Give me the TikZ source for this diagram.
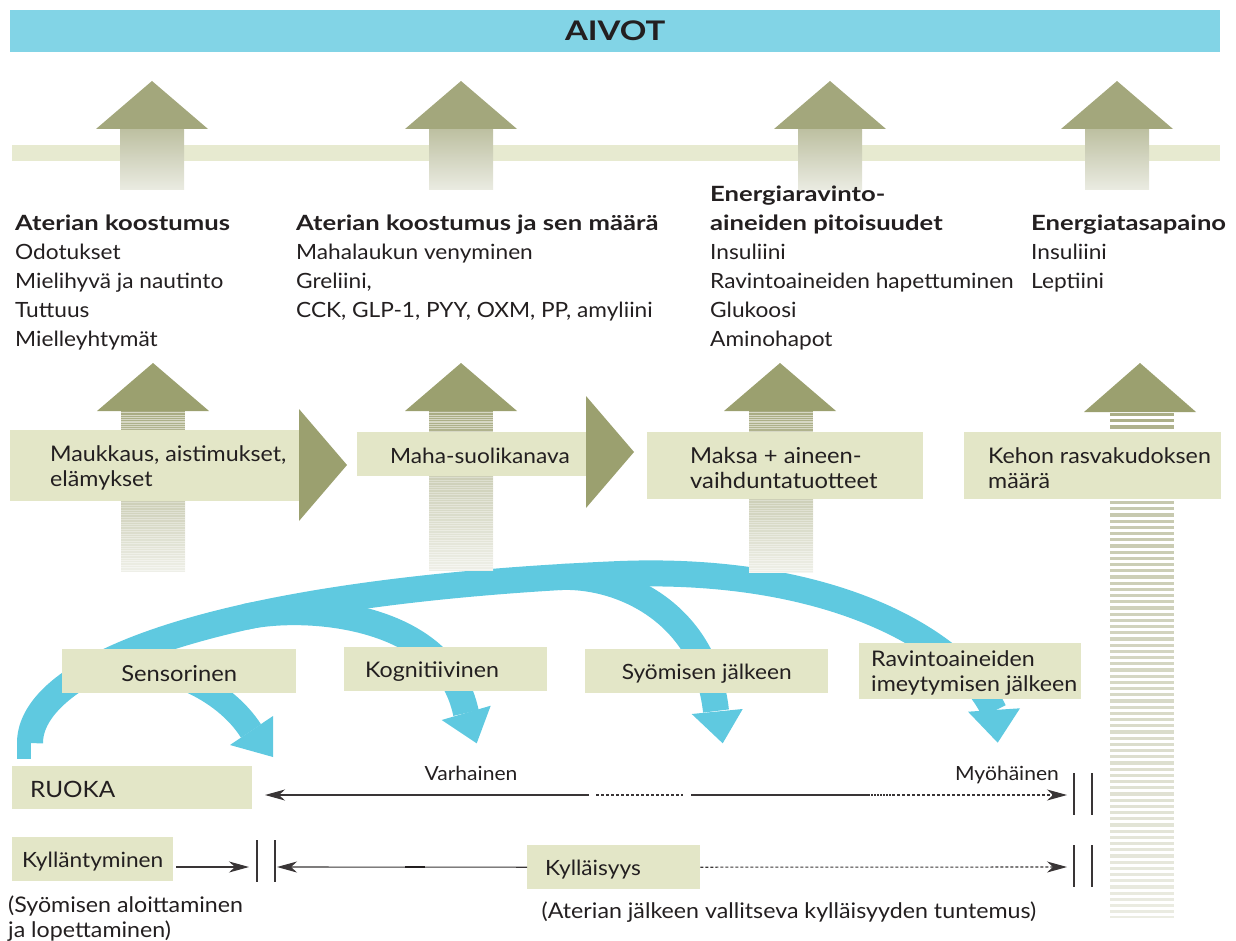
\documentclass[tikz,border=0pt]{standalone}
\usepackage{fontspec}
\setmainfont[FakeStretch=1.08]{Lato}
\newfontfamily\hdfont[FakeStretch=1.22]{Lato}
\usetikzlibrary{arrows.meta}
\definecolor{aivot}{HTML}{82D4E6}
\definecolor{bandc}{HTML}{E7EAD0}
\definecolor{boxc}{HTML}{E3E6C7}
\definecolor{olv}{HTML}{A3A77C}
\definecolor{olvd}{HTML}{9BA06F}
\definecolor{bluec}{HTML}{5FC9E0}
\definecolor{inkc}{HTML}{231F20}
\newcommand\hd[1]{{\hdfont\bfseries #1}}
\newcommand\mystripes[8]{%
  \pgfmathtruncatemacro\myN{(#4-#3)/#5}%
  \foreach \k in {0,...,\myN}{%
    \pgfmathsetmacro\myp{#7+(#8-#7)*\k/max(\myN,1)}%
    \pgfmathsetmacro\myy{#3+#5*\k}%
    \pgfmathsetmacro\myyb{min(\myy+#6,#4)}%
    \fill[olv!\myp!white] (#1,\myy) rectangle (#2,\myyb);
  }}
\begin{document}
\begin{tikzpicture}[x=1pt,y=-1pt,
  txt/.style={font=\fontsize{21}{29}\selectfont, text=inkc, inner sep=0pt, align=left},
  btxt/.style={font=\fontsize{21.5}{25}\selectfont, text=inkc, inner sep=0pt, align=left, yshift=-2pt},
  boxn/.style={fill=boxc, inner sep=0pt, anchor=north west},
  tl/.style={line width=1.1pt, draw=inkc!90},
  tiph/.style={-{Stealth[length=20pt,width=11pt,inset=6pt]}},
  dsh/.style={dash pattern=on 3pt off 2pt},
  bluearc/.style={draw=bluec, line width=26pt},
]
\useasboundingbox (0,0) rectangle (1236,941);

% ---------- top band and top arrows ----------
\fill[bandc] (12,145) rectangle (1220,161);
\foreach \cx in {152,461,830,1117}{
  \shade[top color=olv!72!white, bottom color=olv!22!white] (\cx-32,129) rectangle (\cx+32,190);
  \fill[olv] (\cx-56,129) -- (\cx,81) -- (\cx+56,129) -- cycle;
}
\node[fill=aivot, minimum width=1210pt, minimum height=42pt, anchor=north west, inner sep=0pt,
      font=\hdfont\bfseries\fontsize{27}{27}\selectfont, text=inkc] (aivot) at (10,10) {AIVOT};

% ---------- column texts ----------
\node[txt, anchor=north west] (c1) at (15,215) {\hd{Aterian koostumus}\\Odotukset\\Mielihyvä ja nautinto\\Tuttuus\\Mielleyhtymät};
\node[txt, anchor=north west] (c2) at (296,215) {\hd{Aterian koostumus ja sen määrä}\\Mahalaukun venyminen\\Greliini,\\CCK, GLP-1, PYY, OXM, PP, amyliini};
\node[txt, anchor=north west] (c3) at (710,186) {\hd{Energiaravinto-}\\\hd{aineiden pitoisuudet}\\Insuliini\\Ravintoaineiden hapettuminen\\Glukoosi\\Aminohapot};
\node[txt, anchor=north west] (c4) at (1031,215) {\hd{Energiatasapaino}\\Insuliini\\Leptiini};

% ---------- blue arcs (branches first, main arc on top) ----------
\draw[bluearc, line width=24pt] (92,672) .. controls (160,655) and (225,690) .. (251,731);
\draw[bluearc] (245.1,616.9) .. controls (303,603.9) and (445,612) .. (466,713);
\draw[bluearc] (558.9,577.1) .. controls (620,574) and (705,612) .. (716,711);
\draw[bluearc] (30,743) .. controls (30,670) and (200,592) .. (620,574)
                .. controls (830,566) and (960,640) .. (994,711);
\fill[bluec] (17,740) rectangle (31,759);
\fill[bluec] (230,745) -- (273,716) -- (273,757) -- cycle;
\fill[bluec] (441.7,720) -- (490.7,705.7) -- (476.7,743.3) -- cycle;
\fill[bluec] (691.7,714) -- (742.7,709) -- (722.7,743.3) -- cycle;
\fill[bluec] (968,711.7) -- (1020,708.3) -- (997.7,742.7) -- cycle;

% ---------- second row arrows ----------
% arrow 1
\fill[olv!45!white] (121,411) rectangle (185,430);
\mystripes{121}{185}{411}{430}{2.3}{1.2}{95}{85}
\shade[top color=olv!38!white, bottom color=olv!10!white] (121,501) rectangle (185,571);
\mystripes{121}{185}{501}{571}{2.4}{1.3}{55}{18}
\fill[olvd] (97,411) -- (153,363) -- (209,411) -- cycle;
% arrow 2
\fill[olv!45!white] (429,411) rectangle (493,432);
\mystripes{429}{493}{411}{432}{2.3}{1.2}{95}{85}
\shade[top color=olv!38!white, bottom color=olv!10!white] (429,476) rectangle (493,570);
\mystripes{429}{493}{476}{570}{2.4}{1.3}{55}{18}
\fill[olvd] (405,411) -- (461,363) -- (517,411) -- cycle;
% arrow 3
\fill[olv!45!white] (749,411) rectangle (813,432);
\mystripes{749}{813}{411}{432}{2.3}{1.2}{95}{85}
\shade[top color=olv!38!white, bottom color=olv!10!white] (749,499) rectangle (813,572);
\mystripes{749}{813}{499}{572}{2.4}{1.3}{55}{18}
\fill[olvd] (724,411) -- (780,363) -- (836,411) -- cycle;
% arrow 4
\mystripes{1110}{1174}{413}{432}{6.2}{3.1}{92}{85}
\mystripes{1110}{1174}{501}{918}{6.2}{3.1}{62}{22}
\fill[olvd] (1084,412) -- (1140,363) -- (1196,412) -- cycle;

% boxes second row
\node[boxn, minimum width=290pt, minimum height=71pt] (b1) at (10,430) {};
\node[btxt, anchor=west] (b1t) at ([xshift=40pt]b1.west) {Maukkaus, aistimukset,\\elämykset};
\fill[olvd] (299,409) -- (347,465) -- (299,521) -- cycle;
\node[boxn, minimum width=229pt, minimum height=44pt] (b2) at (357,432) {};
\node[btxt, anchor=west, font=\fontsize{21}{25}\selectfont] (b2t) at ([xshift=33pt]b2.west) {Maha-suolikanava};
\fill[olvd] (586,396) -- (634,452) -- (586,508) -- cycle;
\node[boxn, minimum width=276pt, minimum height=67pt] (b3) at (647,432) {};
\node[btxt, anchor=west, font=\fontsize{22}{25}\selectfont] (b3t) at ([xshift=43pt]b3.west) {Maksa + aineen-\\vaihduntatuotteet};
\node[boxn, minimum width=257pt, minimum height=67pt] (b4) at (964,432) {};
\node[btxt, anchor=west] (b4t) at ([xshift=24pt]b4.west) {Kehon rasvakudoksen\\määrä};

% ---------- label boxes on arcs ----------
\node[boxn, minimum width=234pt, minimum height=44pt] (sen) at (62,649) {};
\node[btxt, font=\fontsize{22}{25}\selectfont] (sent) at (sen.center) {Sensorinen};
\node[boxn, minimum width=203pt, minimum height=44pt] (kog) at (344,647) {};
\node[btxt, anchor=west] (kogt) at ([xshift=21pt]kog.west) {Kognitiivinen};
\node[boxn, minimum width=243pt, minimum height=44pt] (syo) at (585,649) {};
\node[btxt, font=\fontsize{21}{25}\selectfont] (syot) at (syo.center) {Syömisen jälkeen};
\node[boxn, minimum width=222pt, minimum height=56pt] (rav) at (859,643) {};
\node[btxt, anchor=west] (ravt) at ([xshift=12pt]rav.west) {Ravintoaineiden\\imeytymisen jälkeen};

% ---------- timeline 1 ----------
\node[boxn, minimum width=240pt, minimum height=43pt] (ruoka) at (12,766) {};
\node[btxt, anchor=west, font=\fontsize{22.5}{25}\selectfont] (ruokat) at ([xshift=18pt]ruoka.west) {RUOKA};
\coordinate (t1l) at (265,795);
\coordinate (t1a) at (589,795);
\coordinate (t1b) at (596,795);
\coordinate (t1c) at (683,795);
\coordinate (t1d) at (691,795);
\coordinate (t1e) at (868,795);
\coordinate (t1f) at (892,795);
\coordinate (t1r) at (1067,795);
\draw[tl, tiph] (t1a) -- (t1l);
\draw[tl, dsh] (t1b) -- (t1c);
\draw[tl] (t1d) -- (t1e);
\draw[tl, dash pattern=on 2pt off 1pt] (t1e) -- (t1f);
\draw[tl, dsh, tiph] (t1f) -- (t1r);
\node[txt, font=\fontsize{19.5}{24}\selectfont] (varh) at (471,773) {Varhainen};
\node[txt, font=\fontsize{19.5}{24}\selectfont] (myoh) at (1007,775) {Myöhäinen};
\draw[tl] (1074,773) -- (1074,815);
\draw[tl] (1092,773) -- (1092,815);

% ---------- timeline 2 ----------
\node[boxn, minimum width=161pt, minimum height=44pt] (kyll) at (12,837) {};
\node[btxt, font=\fontsize{21}{25}\selectfont] (kyllt) at (kyll.center) {Kylläntyminen};
\node[boxn, minimum width=173pt, minimum height=44pt] (kys) at (527,845) {};
\node[btxt, anchor=west, font=\fontsize{21}{25}\selectfont] (kyst) at ([xshift=18pt]kys.west) {Kylläisyys};
\coordinate (t2a) at (176,867);
\coordinate (t2b) at (249,867);
\coordinate (t2c) at (277,867);
\coordinate (t2r) at (1067,867);
\draw[tl, tiph] (t2a) -- (t2b);
\draw[tl, tiph] (kys.west) -- (t2c);
\draw[line width=2pt, draw=inkc] (405,867) -- (425,867);
\draw[tl, dsh, tiph] (kys.east) -- (t2r);
\draw[tl] (257,840) -- (257,882);
\draw[tl] (275,840) -- (275,882);
\draw[tl] (1074,845) -- (1074,887);
\draw[tl] (1092,845) -- (1092,887);

\node[txt, anchor=north west, font=\fontsize{21.5}{25}\selectfont] (bl) at (8,896) {(Syömisen aloittaminen\\ja lopettaminen)};
\node[txt, font=\fontsize{21.5}{25}\selectfont] (br) at (789,912) {(Aterian jälkeen vallitseva kylläisyyden tuntemus)};
\end{tikzpicture}
\end{document}
